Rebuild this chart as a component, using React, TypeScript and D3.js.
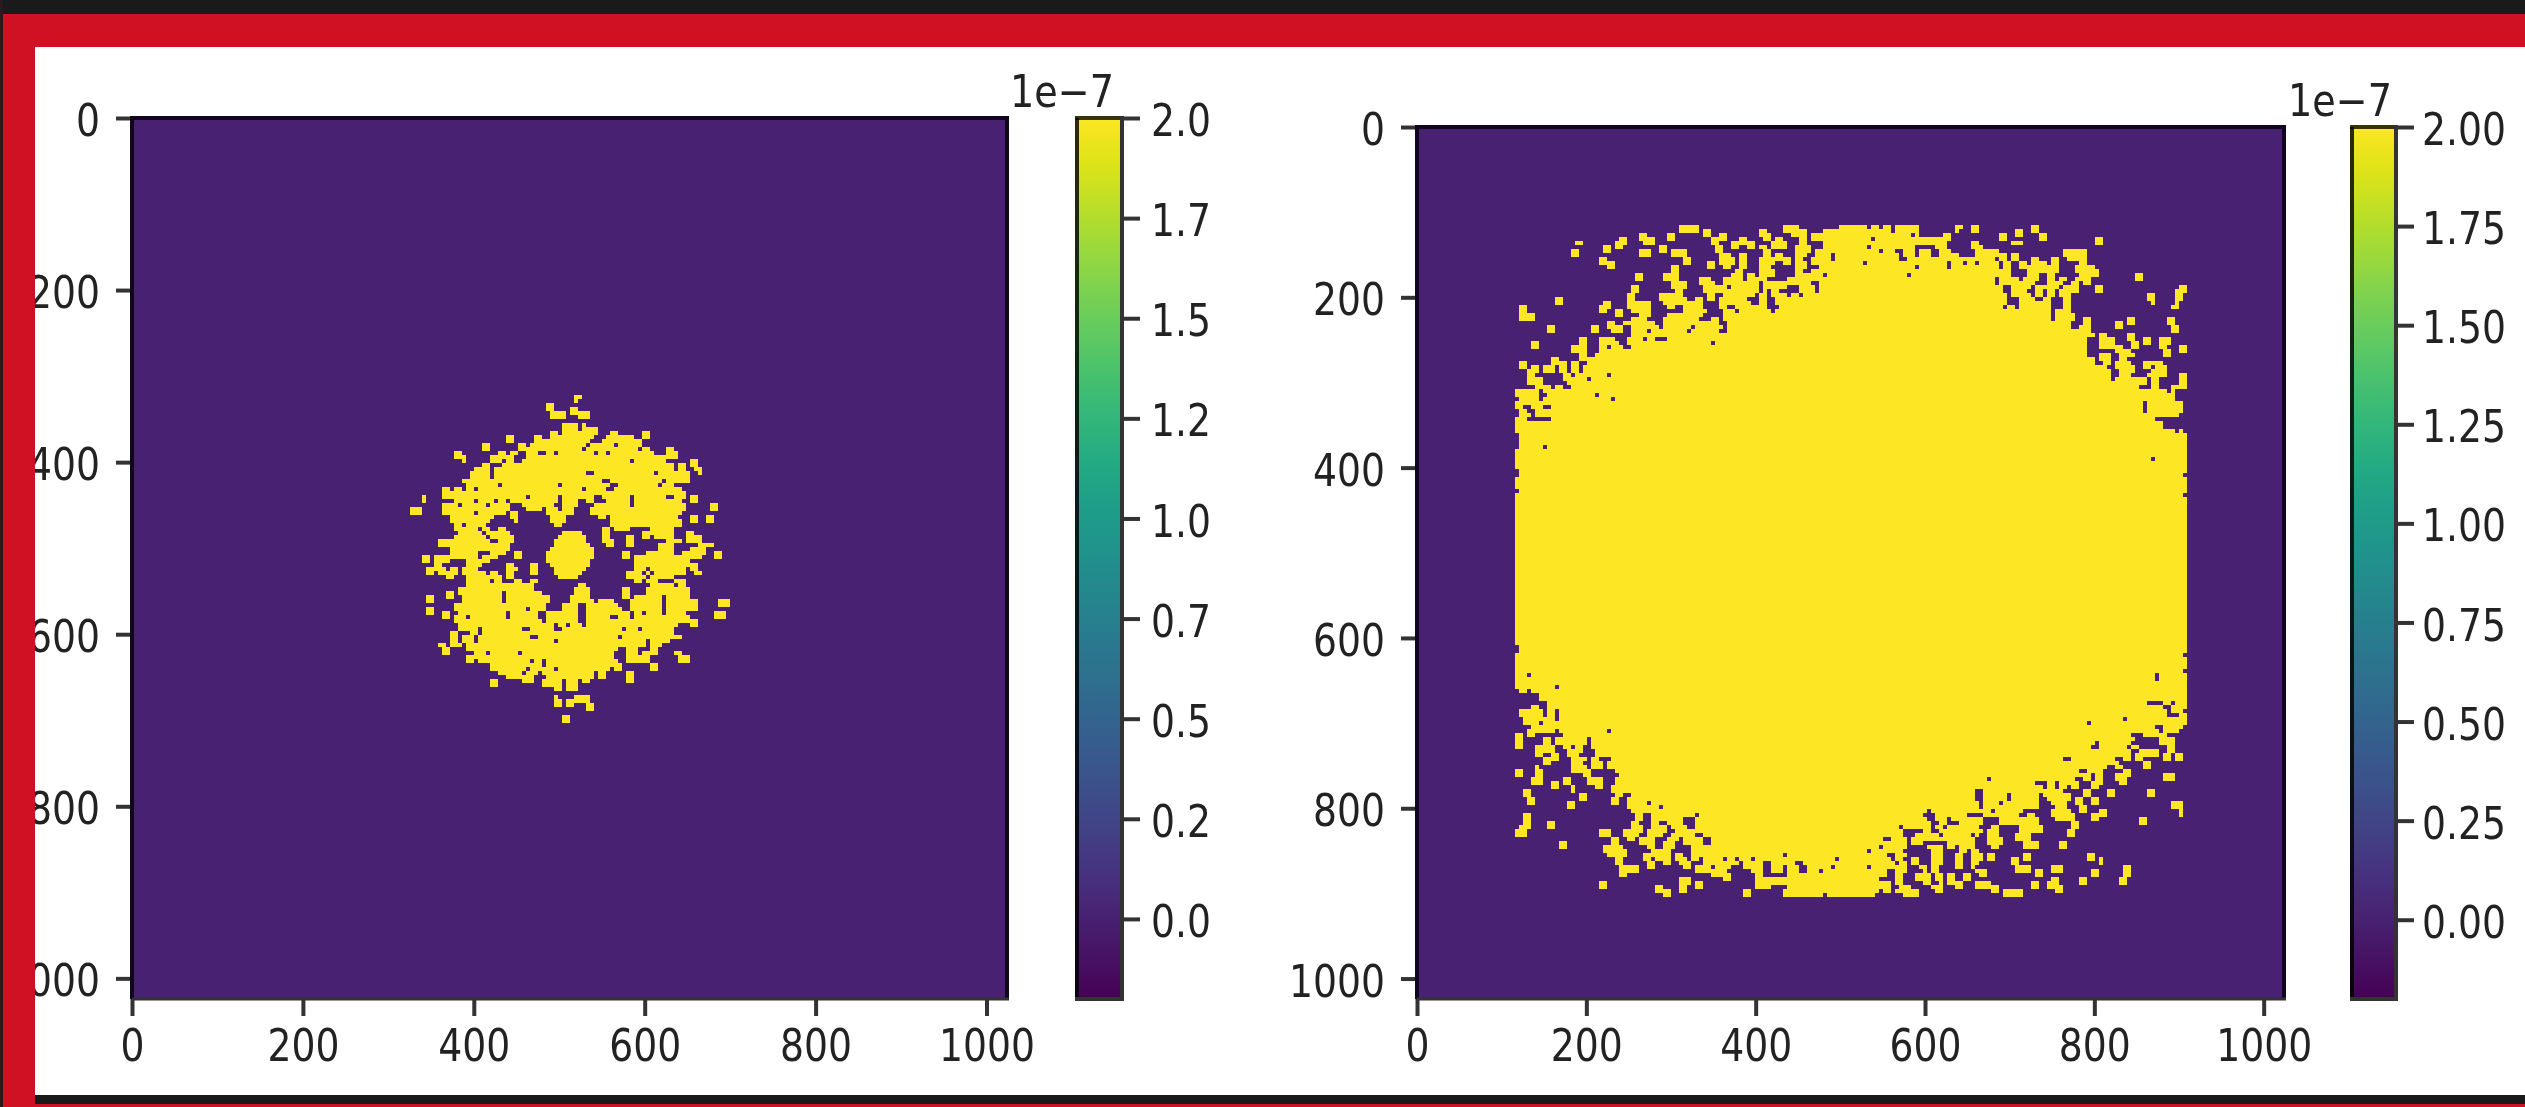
import * as d3 from 'd3'
import { useEffect, useRef } from 'react'

const WIDTH = 2525
const HEIGHT = 1107

// each row is a flat list of start,end cell columns where the image is saturated (yellow)
const leftBlobRows = [
  [46,48],[46,47],[39,41],[39,41,45,47],[40,44,45,50],[40,44,47,50],[],[43,47,48,49],
  [43,47,48,52],[40,42,43,52,55,57,63,65],[29,31,36,38,40,51,54,61,63,65],[29,31,36,50,53,63],
  [23,25,32,34,35,49,50,56,57,63],[23,25,32,48,49,62,63,65,69,71],
  [16,18,27,29,30,32,34,37,39,41,42,51,52,54,55,66,69,72],[16,19,25,31,34,72],
  [18,19,25,28,29,31,33,60,61,69,75,77],[23,25,28,71,72,74,75,77],[21,25,26,71,72,74,76,78],
  [20,25,26,49,51,66,67,75,77,78],[20,25,26,75],[18,53,55,68,69,75],[19,27,28,42,43,55,57,67,68,71],
  [13,15,16,18,19,21,22,48,49,54,56,73],[13,74],[8,9,13,34,35,42,43,51,53,60,61,69,71,74,75,77],
  [8,9,16,21,22,26,27,29,30,42,43,47,49,51,54,60,61,73,75,77],[13,17,18,24,25,30,33,41,43,47,51,60,61,74,80,82],
  [5,8,13,30,34,38,39,42,43,46,50,74,80,82],[5,8,13,21,22,29,30,32,39,46,50,73],
  [15,26,30,32,40,44,52,54,55,72,75,77,79,81],[15,25,31,32,40,44,55,73,75,77,79,81],[16,18,19,24,41,43,55,73],
  [16,22,23,25,27,29,53,55,56,60,65,71],[17,23,24,30,43,48,53,55,63,71,74,76],
  [16,24,25,31,42,49,53,55,59,61,63,65,66,71,74,78],[12,25,27,31,41,49,53,56,59,61,69,73,74,78],
  [12,30,41,50,54,56,59,61,67,71,77,81],[15,30,40,51,67,71,75,79],
  [15,22,25,29,31,33,39,51,58,60,64,71,73,79,81,83],[8,10,11,22,23,27,31,33,39,51,58,60,61,78,81,83],
  [8,10,11,15,19,25,39,50,61,75],[11,13,19,23,29,31,35,37,40,50,61,77],
  [9,14,15,17,18,22,29,32,35,37,41,49,61,64,65,74,75,77],
  [9,11,12,17,18,24,25,27,29,31,35,37,41,48,59,63,64,65,66,74,76,78],
  [14,16,19,28,29,31,42,47,59,64,65,67,67,71],[19,25,26,28,31,33,35,37,61,63,64,67,71,72,72,74],
  [19,36,47,49,65,71,72,74],[17,36,46,50,58,60,64,75],[14,16,17,28,29,38,46,50,58,60,64,75],
  [9,11,14,16,18,28,29,40,45,50,58,60,61,68,69,75],[9,11,18,28,29,40,45,51,52,56,60,68,69,77,82,85],
  [16,39,43,47,49,57,60,68,69,77,82,85],[9,11,16,34,35,39,43,47,49,58,60,68,69,77],
  [9,11,13,15,17,29,30,37,39,47,49,60,61,63,64,68,69,74,81,84],
  [13,15,16,19,20,29,30,37,39,47,49,55,57,60,61,75,81,84],[16,38,39,47,49,77],
  [17,41,42,44,45,48,49,72,75,77],[17,22,23,33,35,41,43,58,59,62,63,71],[15,17,20,22,23,71],
  [15,17,18,21,22,35,37,57,58,73],[15,17,18,21,22,41,42,64,65,70],[12,14,15,18,19,64,65,68],
  [13,15,19,57,59,62,65,67],[13,15,21,24,25,32,33,56,59,62,63,67,71,73],[19,56,59,65,72,75],
  [19,21,22,35,36,38,39,57,59,65,72,75],[25,38,39,58,65,67],[25,34,35,41,42,55,56,58,65,67],
  [27,33,34,37,38,51,52,54,59,61],[29,36,39,51,52,54,59,61],[25,27,33,36,38,43,44,47,48,50,59,61],
  [25,27,38,43,44,47],[41,43,44,47],[],[41,42,46,50],[41,43,44,50],[41,43,44,46,49,51],[49,51],[],
  [43,45],[43,45],
]

// right panel, top left of the disc
const rightTopWest = [
  [42,47,68,72,82,85],[42,47,48,50,62,64,68,74,78,85],[32,34,39,41,48,50,52,54,62,65,70,74,75,85],
  [27,29,32,36,39,41,50,54,57,59,63,65,66,68,72,74,75,85],[16,18,26,29,33,36,50,52,55,61,65,69,72,74,78,85],
  [23,25,26,28,37,39,51,53,55,57,59,61,62,64,65,69,71,75,78,85],[15,17,23,25,32,35,37,39,40,44,51,53,63,65,71,75,76,85],
  [15,17,32,35,40,44,52,55,57,59,63,65,66,68,71,74,76,80,81,85],[22,24,43,45,52,56,57,59,62,70,71,73,75,80,81,85],
  [22,26,43,45,49,51,52,56,57,59,62,66,68,70,71,74,75,85],[24,26,40,42,49,51,53,55,57,59,62,65,71,74,77,85],
  [40,42,56,58,62,66,71,73,75,85],[31,33,38,42,55,58,59,61,62,66,71,78,79,85],[31,33,38,42,47,50,53,58,59,64,69,85],
  [40,44,47,51,53,62,63,75,77,85],[30,32,40,44,48,54,55,62,63,69,72,76,77,85],[30,32,41,43,48,62,63,64,65,67,72,76,77,85],
  [29,31,37,43,49,51,53,61,62,64,65,69,70,72,73,85],[11,13,29,31,37,44,46,48,49,51,52,59,62,64,66,85],
  [11,13,23,25,29,35,38,46,46,48,52,60,62,64,66,85],[2,4,22,25,29,35,39,41,43,48,52,54,56,64,67,85],
  [2,4,22,24,26,28,30,35,43,49,53,56,57,65,66,85],[2,6,26,28,32,35,39,48,53,85],[2,6,30,34,38,47,50,52,53,85],
  [24,26,28,36,38,52,54,85],[9,11,20,22,24,28,30,37,38,45,46,53,54,85],[9,11,20,22,25,28,30,34,35,44,45,52,54,85],
  [30,85],[17,19,22,26,29,33,34,36,39,85],[5,7,17,19,22,27,29,50,51,85],[5,7,15,19,22,24,25,28,30,85],
  [15,19,22,85],[17,19,21,85],[10,12,17,85],[2,4,10,14,15,17,19,85],[2,4,5,7,8,11,12,14,15,17,18,85],
  [4,7,8,11,12,14,15,17,18,85],[4,6,13,15,16,24,25,85],[4,8,13,19,20,85],[4,8,14,85],[6,10,11,13,15,85],
  [1,7,8,85],[1,7,9,21,22,85],[2,7,8,25,26,85],[1,85],[1,3,5,8,10,85],[2,4,6,85],[2,5,6,85],[1,4,10,85],
  [1,85],[1,85],[1,85],[2,85],[2,85],[2,85],[2,8,9,85],[1,85],[1,85],[1,85],[1,85],[1,85],[2,85],[2,85],
  [1,85],[1,85],[1,85],[2,85],[1,85],[1,85],
]

// right panel, top right of the disc
const rightTopEast = [
  [0,4,5,7,8,10,11,17,26,28,30,32,45,47],[0,10,11,17,26,27,30,32,41,43,45,47],[0,15,16,17,23,25,37,39,41,43,47,49],
  [0,5,6,25,37,39,47,49,61,63],[0,24,30,32,40,43,61,63],[0,4,5,16,21,24,30,33],[0,7,8,11,13,16,17,20,22,25,31,37,53,59],
  [0,12,13,16,17,20,22,27,31,39,40,42,53,59],[0,12,14,36,37,39,40,42,45,47,50,52,54,59],
  [0,3,4,24,25,28,29,31,32,37,38,40,42,44,45,49,50,52,57,59],[0,16,17,24,25,37,38,40,42,44,44,52,56,61],
  [0,40,44,52,56,62],[0,14,15,40,44,47,49,51,57,62,71,73],[0,36,37,42,43,47,49,51,52,54,56,60,71,73],
  [0,36,37,43,43,46,49,53,55,57,58,60],[0,38,40,45,46,52,53,57,61,63,82,84],[0,38,40,44,46,48,49,51,52,57,61,63,81,84],
  [0,39,40,45,46,48,49,51,52,55,74,76,81,83],[0,39,42,46,48,50,53,55,74,76,81,83],[0,39,42,50,53,55,75,76,81,82],
  [0,38,39,41,42,50,53,55,80,82],[0,50,51,55],[0,50,51,56],[0,50,51,56,58,60,69,71,79,81],[0,55,58,60,66,68,69,71,79,81],
  [0,55,57,60,66,68,80,82],[0,60,80,82],[0,61,62,64,69,71],[0,59,62,66,69,71,73,75,77,80],[0,59,62,66,70,72,73,75,77,80],
  [0,59,62,68,70,72,77,79,82,84],[0,59,66,70,78,80,82,84],[0,59,62,65,67,71,78,80],[0,61,62,65,67,69],
  [0,61,63,65,66,70,73,78],[0,64,66,71,73,75,76,79],[0,65,67,71,75,79],[0,65,67,70,74,79,82,84],
  [0,65,66,74,75,77,82,84],[0,74,75,77,82,84],[0,72,75,77,80,84],[0,79,80,81],[0,81],[0,81],[0,73,74,83],[0,73,74,83],
  [0,73,74,83],[0,82],[0,76],[0,78],[0,78],[0,81,82,83],[0,84],[0,84],[0,84],[0,84],[0,84],[0,84],[0,75,76,84],
  [0,84],[0,84],[0,84],[0,83],[0,84],[0,84],[0,84],[0,84],[0,83],[0,84],
]

// solid band through the middle of the disc
const rightMiddle = Array.from({ length: 35 }, () => [1, 169])

// right panel, bottom left of the disc
const rightBottomWest = [
  [1,85],[2,85],[2,85],[1,85],[1,85],[1,85],[1,85],[1,85],[1,4,5,85],[1,85],[1,85],[1,11,12,85],[2,4,5,85],[7,85],[7,85],
  [9,85],[5,7,9,85],[2,8,9,11,12,85],[2,8,9,11,12,85],[3,11,12,85],[3,7,8,85],[5,85],[4,11,12,24,25,85],[1,3,4,6,13,85],
  [1,3,8,10,11,19,20,85],[1,3,8,10,11,19,20,85],[1,3,6,11,13,15,16,18,20,85],[6,11,14,18,21,85],[6,8,10,12,14,17,21,85],
  [8,12,15,19,20,22,25,85],[8,10,15,18,20,23,24,85],[6,7,15,19,20,23,24,85],[1,3,6,8,15,20,26,85],[1,3,6,8,18,20,27,85],
  [5,8,13,15,19,23,26,85],[5,8,10,12,13,15,19,23,26,85],[10,12,15,16,21,23,25,85],[3,5,15,16,25,85],
  [3,5,17,19,26,28,30,85],[4,6,17,19,25,27,29,85],[4,6,14,16,25,27,29,34,35,85],[14,16,29,37,38,85],[30,85],
  [3,5,31,33,35,46,47,85],[3,5,31,33,35,43,46,85],[3,5,9,11,30,32,35,37,39,43,46,85],[2,5,9,11,30,33,35,39,40,44,46,85],
  [1,4,22,25,28,33,34,39,41,85],[1,4,22,25,28,32,34,38,40,46,48,85],[25,27,29,31,32,36,39,42,43,48,50,85],
  [12,14,25,27,32,36,38,41,43,48,50,85],[12,14,23,28,34,36,38,41,45,85],[23,29,35,40,45,85],[24,29,33,40,41,43,45,68,69,85],
  [26,28,33,35,36,40,41,44,45,47,48,53,54,56,57,60,61,81,82,85],[26,28,34,36,38,40,42,45,48,57,58,63,65,71,73,85],
  [27,32,34,36,43,45,46,50,51,55,58,63,65,68,69,72,74,80,81,85],[27,32,46,54,60,63,65,68,69,72,74,77,78,85],
  [27,29,50,55,61,63,69,85],[42,45,53,55,61,85],[22,24,42,45,46,48,61,85],[22,24,36,38,42,44,46,48,61,65,69,85],
  [36,40,42,44,58,60,68,85],[38,40,58,60,68,78,79,85],
]

// right panel, bottom right of the disc
const rightBottomEast = [
  [0,84],[0,84],[0,84],[0,83],[0,84],[0,84],[0,84],[0,83],[0,76,77,84],[0,76,77,84],[0,84],[0,84],[0,84],[0,84],[0,84],
  [0,74,78,80,81,84],[0,78,80,84],[0,79,80,83],[0,79,82,84],[0,68,69,84],[0,59,60,84],[0,76,78,83],[0,77,78,82],[0,70,73,79],
  [0,71,77,81],[0,61,62,70,77,81],[0,60,62,69,70,72,79,81],[0,70,72,77,79,81],[0,70,71,77,78,80,81,83],
  [0,53,55,66,68,70,71,73,78,80,81,83],[0,67,73,75],[0,64,66,68,73,75],[0,57,59,63,68,70],[0,58,58,60,61,63,66,70,78,81],
  [0,34,35,56,58,60,61,63,66,69,78,81],[0,46,49,51,52,57,60,63,67,69],[0,48,49,51,52,54,55,57,60,62],
  [0,31,33,53,58,60,64,66,74,76],[0,31,33,39,40,47,48,55,58,60,64,66,74,76],[0,31,33,39,40,47,49,55,56,58,60,62],
  [0,32,33,37,38,47,50,54,56,58,60,62,80,83],[0,32,33,47,51,54,57,59,80,83],[0,19,20,35,36,43,50,55,57,59,62,64,82,83],
  [0,18,21,29,33,42,44,46,50,56,60,64,82,83],[0,19,21,24,25,33,37,47,51,56,60,62,72,74],[0,20,22,24,27,33,37,47,55,57,72,74],
  [0,12,13,20,21,23,24,32,35,37,42,48,55,57],[0,13,18,20,22,33,34,37,42,48,54,56],[0,13,16,22,23,30,31,32,34,37,41,45,54,56],
  [0,8,10,14,15,23,23,31,34,38,41,45],[0,14,15,18,24,31,34,38,43,47,52,54],[0,7,8,14,19,23,24,26,27,31,35,37,43,47,52,54],
  [0,4,5,13,20,23,27,29,30,32],[0,9,11,14,20,23,26,28,30,33,34,36,43,45,59,61],
  [0,10,11,13,15,17,20,23,26,28,30,33,34,36,40,42,43,45,59,61,62,63],[0,11,12,14,15,17,20,23,26,28,30,32,40,42,62,63],
  [0,4,5,14,17,19,20,22,26,28,30,31,41,45,50,53,68,70],[0,9,11,14,18,19,20,22,31,34,41,45,46,48,50,53,60,62,68,70],
  [0,9,11,13,16,20,21,23,24,26,28,30,32,34,46,48,60,62,68,70],[0,7,11,13,16,20,21,23,24,26,28,30,50,52,57,59,67,69],
  [0,10,11,13,18,20,22,23,24,28,31,35,45,47,49,52,57,59,67,69],[0,10,12,15,20,23,26,28,31,37,45,47,49,53],
  [0,7,8,10,11,17,21,23,35,37,38,43,51,53],[0,6,13,17,38,43],
]

const xTicks = [0, 200, 400, 600, 800, 1000]
const yTicks = [0, 200, 400, 600, 800, 1000]
const colorbarTicks = [0, 0.25, 0.5, 0.75, 1, 1.25, 1.5, 1.75, 2]
const colorMin = -0.2
const colorMax = 2
const backgroundValue = 0

const FONT = 'DejaVu Sans'
const FONT_SIZE = 44

// the picture was blown up from a small one so the digits are narrower than the font wants
const textWidth = (s) => [...s].reduce((sum, ch) => sum + (ch === '.' ? 12 : 24), 0)

const styleText = (sel) => {
  sel.attr('font-family', FONT)
    .attr('font-size', FONT_SIZE)
    .attr('fill', '#222')
    .attr('filter', 'url(#soften)')
    .attr('lengthAdjust', 'spacingAndGlyphs')
    .attr('textLength', function () { return textWidth(this.textContent) })
}

const panels = [
  {
    x: [132, 1007], y: [118, 999],
    cell: { x0: 132, y0: 119 },
    cbar: [1077, 1122],
    cbarPadding: 11,
    offset: { x: 1010, y: 107 },
    patches: [{ col0: 64.5, row0: 69, rows: leftBlobRows }],
  },
  {
    x: [1417, 2284], y: [127, 999],
    cell: { x0: 1419, y0: 129 },
    cbar: [2352, 2396],
    cbarPadding: 8,
    offset: { x: 2288, y: 116 },
    patches: [
      { col0: 23, row0: 24, rows: rightTopWest },
      { col0: 108, row0: 24, rows: rightTopEast },
      { col0: 23, row0: 93, rows: rightMiddle },
      { col0: 23, row0: 128, rows: rightBottomWest },
      { col0: 108, row0: 128, rows: rightBottomEast },
    ],
  },
]

const drawPanel = (svg, panel, index, color) => {
  const g = svg.append('g')
  const [xl, xr] = panel.x
  const [yt, yb] = panel.y

  const xScale = d3.scaleLinear().domain([0, 1024]).range(panel.x)
  const yScale = d3.scaleLinear().domain([0, 1024]).range(panel.y)

  g.append('rect').attr('x', xl).attr('y', yt).attr('width', xr - xl).attr('height', yb - yt)
    .attr('fill', color(backgroundValue))

  // runs of saturated cells, 4px per source pixel
  const cellX = d3.scaleLinear().domain([0, 100]).range([panel.cell.x0, panel.cell.x0 + 400])
  const cellY = d3.scaleLinear().domain([0, 100]).range([panel.cell.y0, panel.cell.y0 + 400])
  const runs = panel.patches.flatMap((p) =>
    p.rows.flatMap((row, i) =>
      d3.range(0, row.length, 2).map((j) => ({
        col: p.col0 + row[j],
        end: p.col0 + row[j + 1],
        row: p.row0 + i,
      }))
    )
  )
  g.append('g').attr('shape-rendering', 'crispEdges')
    .selectAll('rect').data(runs).join('rect')
    .attr('x', (d) => cellX(d.col))
    .attr('y', (d) => cellY(d.row))
    .attr('width', (d) => cellX(d.end) - cellX(d.col))
    .attr('height', cellY(1) - cellY(0))
    .attr('fill', color(colorMax))

  // axes
  const xAxis = g.append('g').attr('transform', `translate(0,${yb})`)
    .call(d3.axisBottom(xScale).tickValues(xTicks).tickFormat(d3.format('d')).tickSize(17))
  xAxis.select('.domain').remove()
  xAxis.selectAll('line').attr('stroke', '#333').attr('stroke-width', 4)
  xAxis.selectAll('text').attr('y', 1061 - yb).attr('dy', 0).call(styleText)

  const yAxis = g.append('g').attr('transform', `translate(${xl},0)`)
    .call(d3.axisLeft(yScale).tickValues(yTicks).tickFormat(d3.format('d')).tickSize(16).tickPadding(16))
  yAxis.select('.domain').remove()
  yAxis.selectAll('line').attr('stroke', '#333').attr('stroke-width', 4)
  yAxis.selectAll('text').attr('dy', '0.4em').call(styleText)

  // spines
  const spine = (x1, y1, x2, y2, stroke, w) =>
    g.append('line').attr('x1', x1).attr('y1', y1).attr('x2', x2).attr('y2', y2)
      .attr('stroke', stroke).attr('stroke-width', w)
  spine(xl - 2, yt, xr + 2, yt, '#12061f', 4)
  spine(xl, yt, xl, yb, '#12061f', 4)
  spine(xr, yt, xr, yb, '#12061f', 4)
  spine(xl, yb, xr + 2, yb, '#333', 3)

  // colorbar
  const [cl, cr] = panel.cbar
  const cScale = d3.scaleLinear().domain([colorMin, colorMax]).range([yb, yt])
  const gradId = `viridis-${index}`
  const grad = svg.append('defs').append('linearGradient').attr('id', gradId)
    .attr('x1', 0).attr('x2', 0).attr('y1', 1).attr('y2', 0)
  d3.range(0, 21).forEach((i) => {
    grad.append('stop').attr('offset', `${i * 5}%`).attr('stop-color', d3.interpolateViridis(i / 20))
  })
  g.append('rect').attr('x', cl - 2).attr('y', yt - 2).attr('width', cr - cl + 2).attr('height', yb - yt + 2)
    .attr('fill', `url(#${gradId})`)
  spine(cl, yt, cl, yb, 'rgba(0,0,0,0.82)', 4)
  spine(cl - 2, yt, cr, yt, 'rgba(0,0,0,0.78)', 4)
  spine(cr, yt - 2, cr, yb + 2, '#333', 4)
  spine(cl - 2, yb, cr + 2, yb, '#333', 4)

  const cAxis = g.append('g').attr('transform', `translate(${cr},0)`)
    .call(d3.axisRight(cScale).tickValues(colorbarTicks).tickFormat(d3.format('.2f')).tickSize(18).tickPadding(panel.cbarPadding))
  cAxis.select('.domain').remove()
  cAxis.selectAll('line').attr('stroke', '#333').attr('stroke-width', 4)
  cAxis.selectAll('text').attr('dy', '0.4em').call(styleText)

  g.append('text').attr('x', panel.offset.x).attr('y', panel.offset.y).text('1e\u22127')
    .call(styleText).attr('textLength', 104)
}

const App = () => {
  const svgRef = useRef()

  useEffect(() => {
    const svg = d3.select(svgRef.current)
    svg.selectAll('*').remove()

    // labels in the reference are soft from the upscaling
    svg.append('defs').append('filter').attr('id', 'soften')
      .attr('x', '-10%').attr('y', '-10%').attr('width', '120%').attr('height', '120%')
      .append('feGaussianBlur').attr('stdDeviation', 0.7)

    const color = d3.scaleSequential(d3.interpolateViridis).domain([colorMin, colorMax])

    svg.append('rect').attr('width', WIDTH).attr('height', HEIGHT).attr('fill', '#fff')
    drawPanel(svg, panels[0], 0, color)

    // the first colorbar's labels are cut off by the white gutter
    svg.append('rect').attr('x', 1212).attr('y', 47).attr('width', 74).attr('height', 1048).attr('fill', '#fff')
    drawPanel(svg, panels[1], 1, color)

    // page frame around the screenshot
    const frame = [
      [0, 0, WIDTH, 14, '#1b1a1b'],
      [3, 14, WIDTH - 3, 33, '#d01124'],
      [0, 0, 3, HEIGHT, '#2a1a1e'],
      [3, 14, 32, HEIGHT - 14, '#d01124'],
      [35, 1095, WIDTH - 35, 9, '#1b1a1b'],
      [3, 1104, WIDTH - 3, 3, '#d01124'],
    ]
    svg.append('g').selectAll('rect').data(frame).join('rect')
      .attr('x', (d) => d[0]).attr('y', (d) => d[1])
      .attr('width', (d) => d[2]).attr('height', (d) => d[3])
      .attr('fill', (d) => d[4])
  }, [])

  return (
    <svg
      ref={svgRef}
      width={WIDTH}
      height={HEIGHT}
      style={{ position: 'absolute', left: 0, top: 0, display: 'block' }}
    />
  )
}

export default App
